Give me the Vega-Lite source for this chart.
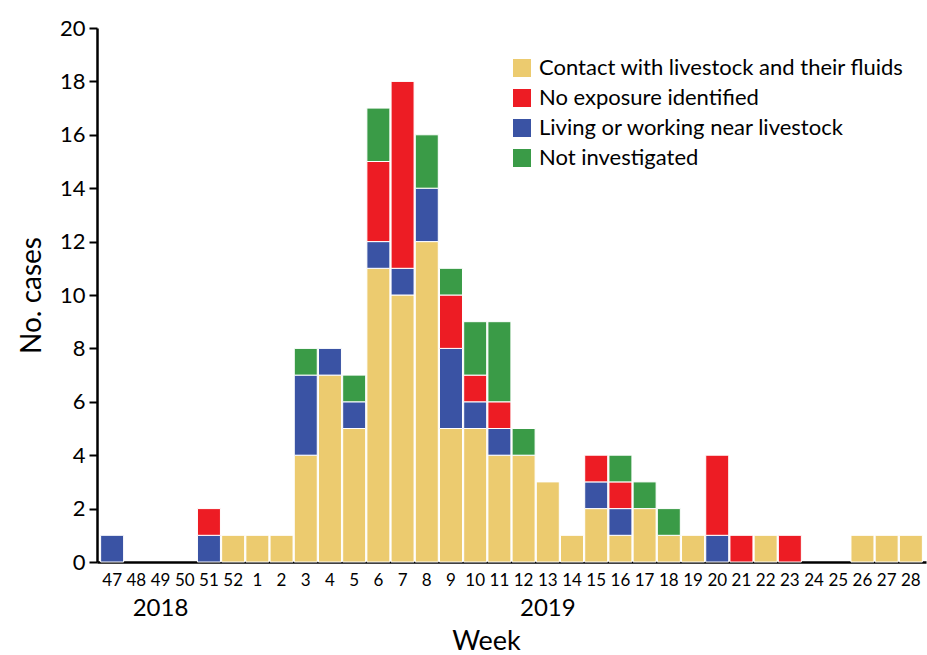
{
  "$schema": "https://vega.github.io/schema/vega-lite/v6.json",
  "width": 829,
  "height": 534,
  "autosize": {"type": "none"},
  "padding": {"left": 97, "top": 28, "right": 1, "bottom": 93},
  "background": "white",
  "config": {
    "font": "Lato",
    "view": {"stroke": null},
    "axis": {"grid": false, "labelColor": "black", "titleColor": "black", "titleFontWeight": "normal", "labelFont": "Lato", "titleFont": "Lato"}
  },
  "data": {
    "values": [
      {"week": "47", "exposure": "Living or working near livestock", "cases": 1},
      {"week": "51", "exposure": "Living or working near livestock", "cases": 1},
      {"week": "51", "exposure": "No exposure identified", "cases": 1},
      {"week": "52", "exposure": "Contact with livestock and their fluids", "cases": 1},
      {"week": "1", "exposure": "Contact with livestock and their fluids", "cases": 1},
      {"week": "2", "exposure": "Contact with livestock and their fluids", "cases": 1},
      {"week": "3", "exposure": "Contact with livestock and their fluids", "cases": 4},
      {"week": "3", "exposure": "Living or working near livestock", "cases": 3},
      {"week": "3", "exposure": "Not investigated", "cases": 1},
      {"week": "4", "exposure": "Contact with livestock and their fluids", "cases": 7},
      {"week": "4", "exposure": "Living or working near livestock", "cases": 1},
      {"week": "5", "exposure": "Contact with livestock and their fluids", "cases": 5},
      {"week": "5", "exposure": "Living or working near livestock", "cases": 1},
      {"week": "5", "exposure": "Not investigated", "cases": 1},
      {"week": "6", "exposure": "Contact with livestock and their fluids", "cases": 11},
      {"week": "6", "exposure": "Living or working near livestock", "cases": 1},
      {"week": "6", "exposure": "No exposure identified", "cases": 3},
      {"week": "6", "exposure": "Not investigated", "cases": 2},
      {"week": "7", "exposure": "Contact with livestock and their fluids", "cases": 10},
      {"week": "7", "exposure": "Living or working near livestock", "cases": 1},
      {"week": "7", "exposure": "No exposure identified", "cases": 7},
      {"week": "8", "exposure": "Contact with livestock and their fluids", "cases": 12},
      {"week": "8", "exposure": "Living or working near livestock", "cases": 2},
      {"week": "8", "exposure": "Not investigated", "cases": 2},
      {"week": "9", "exposure": "Contact with livestock and their fluids", "cases": 5},
      {"week": "9", "exposure": "Living or working near livestock", "cases": 3},
      {"week": "9", "exposure": "No exposure identified", "cases": 2},
      {"week": "9", "exposure": "Not investigated", "cases": 1},
      {"week": "10", "exposure": "Contact with livestock and their fluids", "cases": 5},
      {"week": "10", "exposure": "Living or working near livestock", "cases": 1},
      {"week": "10", "exposure": "No exposure identified", "cases": 1},
      {"week": "10", "exposure": "Not investigated", "cases": 2},
      {"week": "11", "exposure": "Contact with livestock and their fluids", "cases": 4},
      {"week": "11", "exposure": "Living or working near livestock", "cases": 1},
      {"week": "11", "exposure": "No exposure identified", "cases": 1},
      {"week": "11", "exposure": "Not investigated", "cases": 3},
      {"week": "12", "exposure": "Contact with livestock and their fluids", "cases": 4},
      {"week": "12", "exposure": "Not investigated", "cases": 1},
      {"week": "13", "exposure": "Contact with livestock and their fluids", "cases": 3},
      {"week": "14", "exposure": "Contact with livestock and their fluids", "cases": 1},
      {"week": "15", "exposure": "Contact with livestock and their fluids", "cases": 2},
      {"week": "15", "exposure": "Living or working near livestock", "cases": 1},
      {"week": "15", "exposure": "No exposure identified", "cases": 1},
      {"week": "16", "exposure": "Contact with livestock and their fluids", "cases": 1},
      {"week": "16", "exposure": "Living or working near livestock", "cases": 1},
      {"week": "16", "exposure": "No exposure identified", "cases": 1},
      {"week": "16", "exposure": "Not investigated", "cases": 1},
      {"week": "17", "exposure": "Contact with livestock and their fluids", "cases": 2},
      {"week": "17", "exposure": "Not investigated", "cases": 1},
      {"week": "18", "exposure": "Contact with livestock and their fluids", "cases": 1},
      {"week": "18", "exposure": "Not investigated", "cases": 1},
      {"week": "19", "exposure": "Contact with livestock and their fluids", "cases": 1},
      {"week": "20", "exposure": "Living or working near livestock", "cases": 1},
      {"week": "20", "exposure": "No exposure identified", "cases": 3},
      {"week": "21", "exposure": "No exposure identified", "cases": 1},
      {"week": "22", "exposure": "Contact with livestock and their fluids", "cases": 1},
      {"week": "23", "exposure": "No exposure identified", "cases": 1},
      {"week": "26", "exposure": "Contact with livestock and their fluids", "cases": 1},
      {"week": "27", "exposure": "Contact with livestock and their fluids", "cases": 1},
      {"week": "28", "exposure": "Contact with livestock and their fluids", "cases": 1}
    ]
  },
  "resolve": {"axis": {"x": "independent"}},
  "layer": [
    {
      "mark": {"type": "bar", "opacity": 0},
      "encoding": {
        "x": {
          "field": "week", "type": "ordinal",
          "scale": {
            "domain": ["47","48","49","50","51","52","1","2","3","4","5","6","7","8","9","10","11","12","13","14","15","16","17","18","19","20","21","22","23","24","25","26","27","28"],
            "paddingInner": 0.05, "paddingOuter": 0.15
          },
          "axis": {
            "orient": "bottom", "title": "Week", "titleFontSize": 27, "titlePadding": 8, "titleX": 389,
            "labelExpr": "datum.value == '49' ? '2018' : (datum.value == '13' ? '2019' : '')",
            "labelAngle": 0, "labelFontSize": 24, "labelPadding": 34, "labelDx": 8,
            "ticks": false, "tickSize": 0, "domain": false
          }
        }
      }
    },
    {
      "mark": {"type": "bar", "stroke": "white", "strokeWidth": 1},
      "encoding": {
        "x": {
          "field": "week", "type": "ordinal",
          "axis": {
            "orient": "bottom", "title": null, "labelAngle": 0, "labelFontSize": 17,
            "ticks": false, "tickSize": 0, "labelPadding": 10,
            "domainColor": "black", "domainWidth": 2.5
          }
        },
        "y": {
          "field": "cases", "type": "quantitative", "aggregate": "sum",
          "scale": {"domain": [0, 20], "nice": false},
          "axis": {
            "title": "No. cases", "titleFontSize": 28, "titlePadding": 13,
            "values": [0,2,4,6,8,10,12,14,16,18,20],
            "labelFontSize": 22, "labelPadding": 4, "tickSize": 8, "tickColor": "black", "tickWidth": 2,
            "domainColor": "black", "domainWidth": 2.5
          }
        },
        "color": {
          "field": "exposure", "type": "nominal",
          "scale": {
            "domain": ["Contact with livestock and their fluids", "No exposure identified", "Living or working near livestock", "Not investigated"],
            "range": ["#ECCB6F", "#ED1C24", "#3A53A4", "#3A9B47"]
          },
          "legend": {
            "title": null, "orient": "none", "legendX": 414, "legendY": 29,
            "symbolType": "square", "symbolSize": 324, "symbolStrokeWidth": 0,
            "labelFontSize": 22, "labelColor": "black", "labelLimit": 500, "rowPadding": 8, "labelOffset": 6
          }
        },
        "order": {"field": "exposure", "sort": "ascending"}
      }
    }
  ]
}
